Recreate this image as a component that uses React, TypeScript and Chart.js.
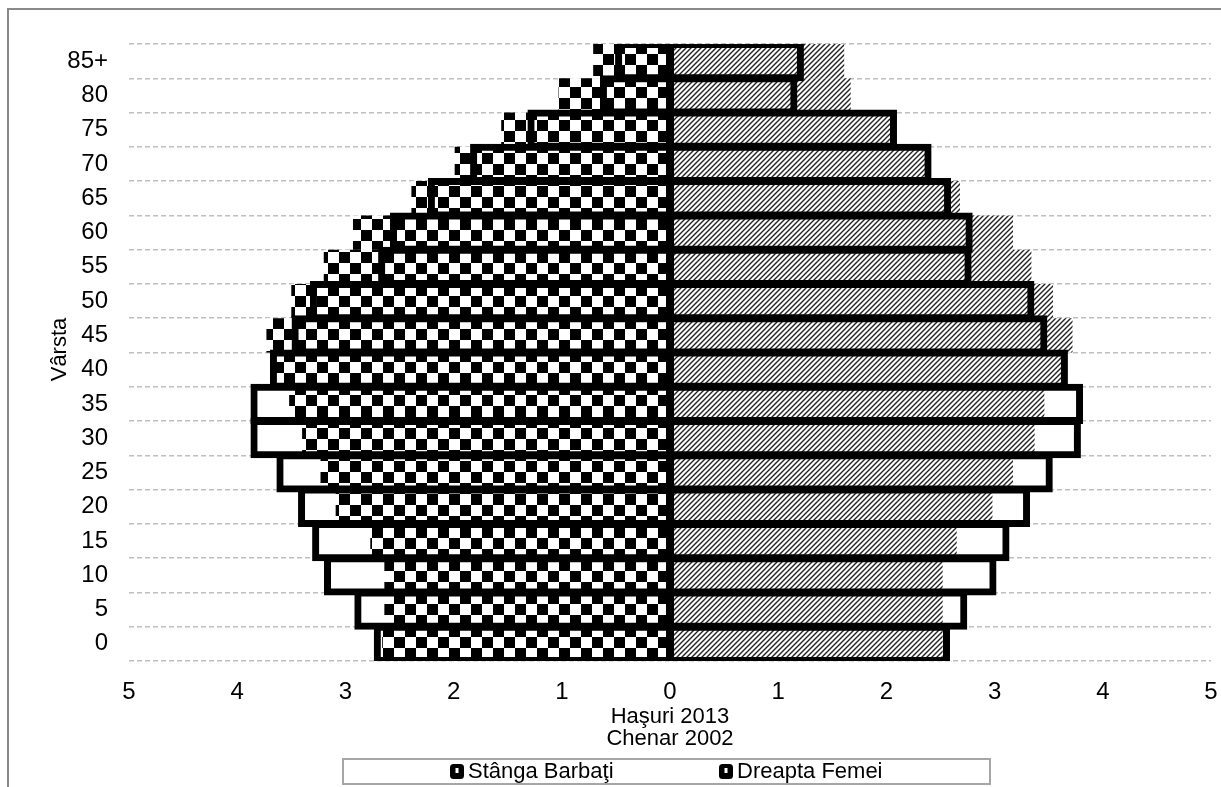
import React, { useEffect, useRef } from "react";
import { Chart, registerables } from "chart.js";

Chart.register(...registerables);

// Age groups, youngest first (drawn bottom-up)
const ageGroups = ["0", "5", "10", "15", "20", "25", "30", "35", "40", "45", "50", "55", "60", "65", "70", "75", "80", "85+"];

// Share of population (%) per age group
const men2013 = [2.66, 2.64, 2.64, 2.77, 3.09, 3.23, 3.4, 3.52, 3.66, 3.73, 3.5, 3.2, 2.93, 2.39, 1.99, 1.56, 1.03, 0.71];
const women2013 = [2.52, 2.52, 2.52, 2.65, 2.98, 3.17, 3.37, 3.46, 3.63, 3.72, 3.54, 3.34, 3.17, 2.68, 2.36, 2.06, 1.67, 1.61];
const men2002 = [2.71, 2.89, 3.17, 3.28, 3.41, 3.61, 3.85, 3.85, 3.67, 3.47, 3.3, 2.67, 2.56, 2.21, 1.82, 1.29, 0.62, 0.48];
const women2002 = [2.56, 2.72, 2.99, 3.11, 3.3, 3.51, 3.77, 3.79, 3.65, 3.46, 3.34, 2.76, 2.77, 2.57, 2.39, 2.07, 1.15, 1.21];

// Axis range and texts
const xMin = -5;
const xMax = 5;
const xTitleLines = ["Haşuri 2013", "Chenar 2002"];
const yTitle = "Vârsta";
const legendLabels = ["Stânga Barbaţi", "Dreapta Femei"];

const FONT = "'Liberation Sans', Arial, sans-serif";

function makeChecker(ctx: CanvasRenderingContext2D) {
  const s = 11;
  const c = document.createElement("canvas");
  c.width = s * 2;
  c.height = s * 2;
  const g = c.getContext("2d")!;
  g.fillStyle = "#fff";
  g.fillRect(0, 0, s * 2, s * 2);
  g.fillStyle = "#000";
  g.fillRect(0, 0, s, s);
  g.fillRect(s, s, s, s);
  return ctx.createPattern(c, "repeat")!;
}

function makeHatch(ctx: CanvasRenderingContext2D) {
  const p = 5;
  const c = document.createElement("canvas");
  c.width = p;
  c.height = p;
  const g = c.getContext("2d")!;
  g.fillStyle = "#fff";
  g.fillRect(0, 0, p, p);
  g.strokeStyle = "#222";
  g.lineWidth = 1.4;
  g.beginPath();
  g.moveTo(0, p);
  g.lineTo(p, 0);
  g.moveTo(-1, 1);
  g.lineTo(1, -1);
  g.moveTo(p - 1, p + 1);
  g.lineTo(p + 1, p - 1);
  g.stroke();
  return ctx.createPattern(c, "repeat")!;
}

// Axis titles and the framed legend row
const overlayText = {
  id: "overlayText",
  afterDraw(chart: any) {
    const { ctx, chartArea, scales } = chart;
    ctx.save();
    ctx.fillStyle = "#000";
    ctx.font = `22px ${FONT}`;
    ctx.textAlign = "center";
    ctx.textBaseline = "middle";

    ctx.save();
    ctx.translate(51, (chartArea.top + chartArea.bottom) / 2 - 3);
    ctx.rotate(-Math.PI / 2);
    ctx.fillText(yTitle, 0, 0);
    ctx.restore();

    const cx = scales.x.getPixelForValue(0);
    xTitleLines.forEach((t, i) => ctx.fillText(t, cx, chartArea.bottom + 56 + i * 22));

    // legend frame
    const bx = 334, by = 749, bw = 647, bh = 25;
    ctx.strokeStyle = "#a6a6a6";
    ctx.lineWidth = 2;
    ctx.strokeRect(bx, by, bw, bh);

    const itemX = [bx + 107, bx + 376];
    ctx.textAlign = "left";
    legendLabels.forEach((label, i) => {
      const mx = itemX[i];
      const my = by + 5;
      ctx.fillStyle = "#000";
      ctx.beginPath();
      (ctx as any).roundRect(mx, my, 14, 15, 3.5);
      ctx.fill();
      ctx.fillStyle = "#fff";
      ctx.fillRect(mx + 5.5, my + 4, 3, 5);
      ctx.fillStyle = "#000";
      ctx.fillText(label, mx + 18, by + 13);
    });
    ctx.restore();
  },
};

export default function App() {
  const ref = useRef<HTMLCanvasElement>(null);

  useEffect(() => {
    const canvas = ref.current!;
    const ctx = canvas.getContext("2d")!;
    const checker = makeChecker(ctx);
    const hatch = makeHatch(ctx);

    const outline = {
      backgroundColor: "rgba(0,0,0,0)",
      borderColor: "#000",
      borderWidth: 1,
      borderSkipped: false as const,
      inflateAmount: 3,
      order: 0,
    };

    const chart = new Chart(ctx, {
      type: "bar",
      data: {
        labels: ageGroups,
        datasets: [
          { label: legendLabels[0] + " 2002", data: men2002.map((v) => -v), ...outline },
          { label: legendLabels[1] + " 2002", data: women2002, ...outline },
          {
            label: legendLabels[0] + " 2013",
            data: men2013.map((v) => -v),
            backgroundColor: checker as any,
            borderWidth: 0,
            inflateAmount: 0,
            order: 1,
          },
          {
            label: legendLabels[1] + " 2013",
            data: women2013,
            backgroundColor: hatch as any,
            borderWidth: 0,
            inflateAmount: 0,
            order: 1,
          },
        ],
      },
      options: {
        indexAxis: "y",
        responsive: false,
        animation: false,
        layout: { padding: { left: 0, right: 10, top: 34, bottom: 0 } },
        datasets: {
          bar: { grouped: false, categoryPercentage: 1, barPercentage: 1 },
        },
        plugins: {
          legend: { display: false },
          tooltip: { enabled: false },
        },
        scales: {
          x: {
            type: "linear",
            min: xMin,
            max: xMax,
            grid: { display: false },
            border: { display: false },
            ticks: {
              stepSize: 1,
              padding: 9,
              color: "#000",
              font: { family: FONT, size: 24 },
              callback: (v: any) => String(Math.abs(Number(v))),
            },
            afterFit: (s: any) => {
              s.height = 139;
              s.paddingLeft = 0;
              s.paddingRight = 0;
            },
          },
          y: {
            type: "category",
            reverse: true,
            grid: {
              display: true,
              drawTicks: false,
              color: "#bfbfbf",
              lineWidth: 1.5,
            },
            border: { display: false, dash: [5, 3] },
            ticks: {
              padding: 21,
              color: "#000",
              font: { family: FONT, size: 24 },
            },
            afterFit: (s: any) => {
              s.width = 120;
              s.paddingTop = 0;
              s.paddingBottom = 0;
            },
          },
        },
      },
      plugins: [overlayText],
    });

    return () => chart.destroy();
  }, []);

  return (
    <>
      <style>{`html,body{margin:0;overflow:hidden;background:#fff}`}</style>
      <div
        style={{
          position: "absolute",
          left: 7,
          top: 8,
          width: 1212,
          height: 790,
          borderTop: "2px solid #8a8a8a",
          borderLeft: "2px solid #8a8a8a",
          background: "#fff",
        }}
      >
        <canvas ref={ref} width={1212} height={790} style={{ display: "block", width: 1212, height: 790 }} />
      </div>
    </>
  );
}
